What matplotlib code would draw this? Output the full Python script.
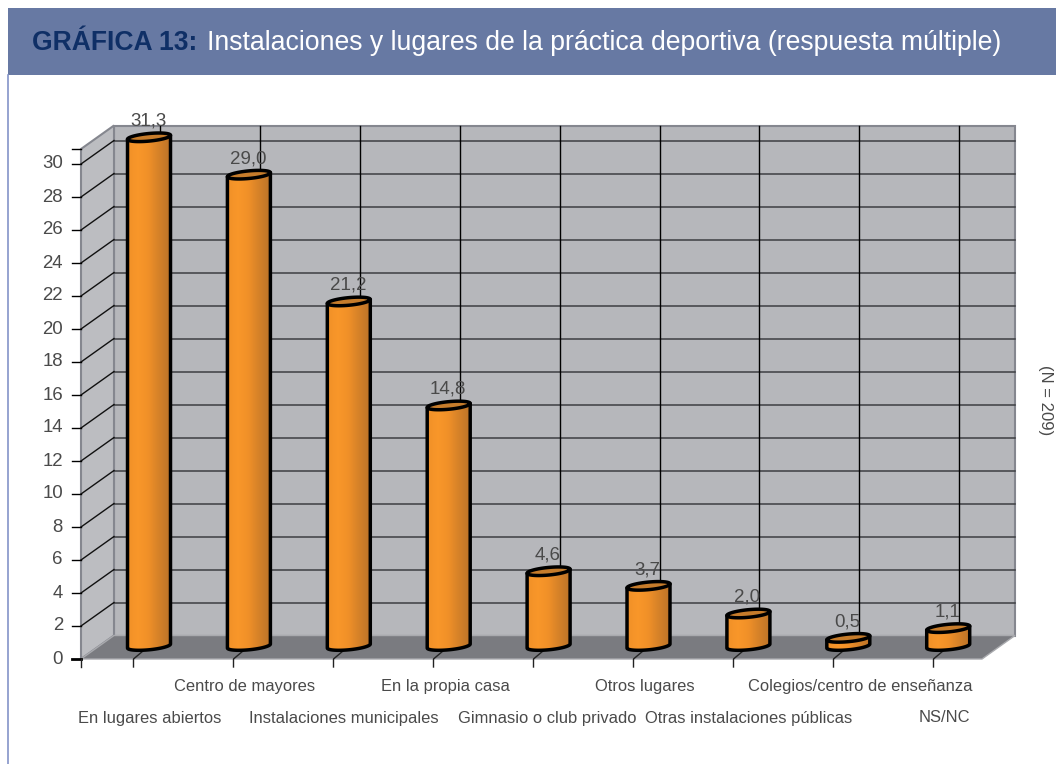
import numpy as np
import matplotlib
matplotlib.use('Agg')
import matplotlib.pyplot as plt
from matplotlib.colors import LinearSegmentedColormap
from matplotlib.patches import Polygon, Rectangle

plt.rcParams['font.family'] = ['Liberation Sans', 'DejaVu Sans']

categories = ['En lugares abiertos', 'Centro de mayores', 'Instalaciones municipales',
              'En la propia casa', 'Gimnasio o club privado', 'Otros lugares',
              'Otras instalaciones públicas', 'Colegios/centro de enseñanza', 'NS/NC']
values = [31.3, 29.0, 21.2, 14.8, 4.6, 3.7, 2.0, 0.5, 1.1]
value_labels = ['31,3', '29,0', '21,2', '14,8', '4,6', '3,7', '2,0', '0,5', '1,1']
y_ticks = list(range(0, 31, 2))
title_bold = 'GRÁFICA 13:'
title_rest = 'Instalaciones y lugares de la práctica deportiva (respuesta múltiple)'
note = '(N = 209)'

W, H = 1056, 764
PX_X = 99.9       # pixels per category
PX_Y = 16.5       # pixels per value unit
X0, Y0 = 149, 659  # pixel of category 0 / value 0

text_col = '#4a4a4a'

fig = plt.figure(figsize=(W / 100, H / 100), dpi=100)
ax = fig.add_axes([0, 0, 1, 1])
ax.axis('off')


def fx(px):
    return (px - X0) / PX_X


def fy(px):
    return (Y0 - px) / PX_Y


def label(px, py, s, **kw):
    ax.text(fx(px), fy(py), s, **kw)


# cuadro de la grafica
ax.add_patch(Rectangle((fx(8), fy(75)), 1048 / PX_X, 67 / PX_Y, fc='#6779a3', ec='none', zorder=5))
ax.plot([fx(8.5), fx(8.5)], [fy(75), fy(764)], color='#8494c8', lw=1.2, zorder=5)
ax.text(fx(32), fy(43), title_bold, fontsize=19.1, fontweight='bold', color='#0f2f66',
        va='center', ha='left', zorder=6)
ax.text(fx(207), fy(43), title_rest, fontsize=19.15, color='white', va='center', ha='left', zorder=6)

# paredes 3d
left, right = fx(81), fx(982)
dx, dy = 33 / PX_X, 23.5 / PX_Y
top = fy(149)
wall = '#b6b7bb'
edge = '#85878f'
ax.add_patch(Polygon([(left + dx, dy), (right + dx, dy), (right + dx, top + dy), (left + dx, top + dy)],
                     fc=wall, ec=edge, lw=1.5, zorder=1))
ax.add_patch(Polygon([(left, 0), (left + dx, dy), (left + dx, top + dy), (left, top)],
                     fc='#bcbdc1', ec=edge, lw=1.5, zorder=1))
ax.add_patch(Polygon([(left, 0), (left + dx, dy), (right + dx, dy), (right, 0)],
                     fc='#7a7b80', ec='#a9aaae', lw=1, zorder=1))

for v in y_ticks:
    if v > 0:
        ax.plot([left + dx, right + dx], [v + dy, v + dy], color='#3d3e42', lw=1.1, zorder=2)
        ax.plot([left, left + dx], [v, v + dy], color='#111111', lw=1, zorder=2)
    ax.plot([fx(72), left], [v, v], color='black', lw=2 if v == 0 else 1, zorder=2)
    label(63, Y0 - v * PX_Y, str(v), fontsize=13.4, color=text_col, ha='right', va='center')
ax.plot([fx(72), left], [top, top], color='black', lw=1, zorder=2)

for i in range(len(categories)):
    gx = fx(160.5 + 99.8 * i)
    ax.plot([gx, gx], [dy, top + dy], color='black', lw=1, zorder=2)
    tx = fx(133.5 + 100 * i)
    ax.plot([tx, tx, tx + 0.095], [-8 / PX_Y, 0, 8 / PX_Y], color='#222222', lw=1, zorder=2)
ax.plot([left, left], [-8 / PX_Y, 0], color='#222222', lw=1, zorder=2)

# cilindros
cyl_cmap = LinearSegmentedColormap.from_list(
    'cyl', [(0, '#f09028'), (0.25, '#f9972a'), (0.5, '#f09028'), (0.7, '#da8428'), (1, '#bd7428')])
half = 21.5 / PX_X
rad = 3.8 / PX_Y
tilt = 2.0 / PX_Y
base = 13 / PX_Y
bar_scale = 0.985
tt = np.linspace(0, 2 * np.pi, 90)

for i, v in enumerate(values):
    y_top = base + v * bar_scale
    ex = i + half * np.cos(tt)
    ey = rad * np.sin(tt) + tilt * np.cos(tt)
    low = tt > np.pi
    # cuerpo: lado izq, arco inferior, lado der
    xs = np.r_[ex[low], ex[low][-1], ex[low][0]]
    ys = np.r_[base + ey[low], y_top + ey[low][-1], y_top + ey[low][0]]
    body = Polygon(np.c_[xs, ys], fc='none', ec='black', lw=2.5, zorder=4, joinstyle='round')
    ax.add_patch(body)
    im = ax.imshow(np.linspace(0, 1, 64).reshape(1, -1), cmap=cyl_cmap, aspect='auto',
                   extent=[i - half, i + half, base - 0.5, y_top + 0.5], zorder=3)
    im.set_clip_path(Polygon(np.c_[xs, ys], transform=ax.transData))
    ax.add_patch(Polygon(np.c_[ex, y_top + ey], fc='#c67c2b', ec='black', lw=2.5, zorder=4))
    label(i * PX_X + X0 - 1, Y0 - (y_top) * PX_Y - 16, value_labels[i], fontsize=13.5, color=text_col,
          ha='center', va='center', zorder=6)

# etiquetas del eje x, en dos filas
label_centers = [150, 245, 344, 445, 547, 645, 749, 860, 944]
for i, name in enumerate(categories):
    row_y = 718 if i % 2 == 0 else 687
    label(label_centers[i], row_y, name, fontsize=11.9, color=text_col, ha='center', va='center')

label(1045, 400, note, fontsize=12, color=text_col, rotation=-90, ha='center', va='center')

ax.set_xlim(fx(0), fx(W))
ax.set_ylim(fy(H), fy(0))

fig.savefig('out.png', dpi=100, facecolor='white')
